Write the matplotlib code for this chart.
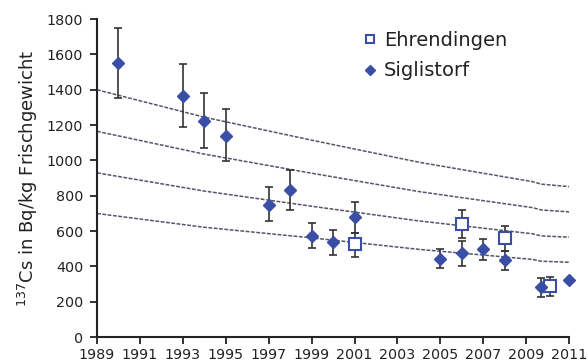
import numpy as np
import matplotlib.pyplot as plt

# Siglistorf (filled diamonds)
sig_years = [1990, 1993, 1994, 1995, 1997, 1998, 1999, 2000, 2001, 2005, 2006, 2007, 2008, 2009.7, 2011]
sig_vals = [1550, 1365, 1225, 1140, 750, 835, 575, 537, 680, 445, 477, 498, 436, 285, 322]
sig_lo = [1355, 1192, 1068, 997, 655, 722, 502, 467, 591, 393, 405, 436, 380, 230, np.nan]
sig_hi = [1752, 1545, 1384, 1290, 848, 945, 647, 604, 766, 498, 546, 557, 487, 335, np.nan]

# Ehrendingen (open squares)
ehr_years = [2001, 2006, 2008, 2010.1]
ehr_vals = [525, 643, 559, 290]
ehr_lo = [453, 563, 487, 233]
ehr_hi = [591, 722, 630, 340]

# decay reference lines
ref_years = [1989, 1994, 1999, 2004, 2009.3, 2009.7, 2011]
ref_lines = [
    [1400, 1245, 1115, 990, 880, 866, 852],
    [1165, 1036, 928, 824, 733, 720, 709],
    [930, 827, 741, 658, 585, 573, 566],
    [700, 622, 562, 497, 440, 430, 424],
]

x_ticks = list(range(1989, 2012, 2))
y_ticks = list(range(0, 1801, 200))

blue = '#3b4ea6'
err_col = '#333333'

fig = plt.figure(figsize=(5.88, 3.61), dpi=100)
ax = fig.add_axes([0.165, 0.066, 0.803, 0.881])

for line in ref_lines:
    ax.plot(ref_years, line, color='#55556a', linestyle=(0, (2.5, 1)), linewidth=1.1, zorder=1)

sig_years = np.array(sig_years)
sig_vals = np.array(sig_vals)
sig_err = np.array([sig_vals - np.array(sig_lo), np.array(sig_hi) - sig_vals])
has_err = ~np.isnan(sig_err[0])
ax.errorbar(sig_years[has_err], sig_vals[has_err], yerr=sig_err[:, has_err], fmt='none',
            ecolor=err_col, elinewidth=1.2, capsize=3, capthick=1.2, zorder=2)

ehr_vals_a = np.array(ehr_vals)
ehr_err = [ehr_vals_a - np.array(ehr_lo), np.array(ehr_hi) - ehr_vals_a]
ax.errorbar(ehr_years, ehr_vals, yerr=ehr_err, fmt='none',
            ecolor=err_col, elinewidth=1.2, capsize=3, capthick=1.2, zorder=2)

ax.plot(ehr_years, ehr_vals, linestyle='none', marker='s', markersize=8,
        markerfacecolor='white', markeredgecolor=blue, markeredgewidth=1.5,
        label='Ehrendingen', zorder=3, clip_on=False)
ax.plot(sig_years, sig_vals, linestyle='none', marker='D', markersize=6.5,
        color=blue, label='Siglistorf', zorder=4, clip_on=False)

ax.set_xlim(1989, 2011)
ax.set_ylim(0, 1800)
ax.set_xticks(x_ticks)
ax.set_yticks(y_ticks)
ax.tick_params(axis='both', direction='out', length=5, width=1.3, color='#222222',
               labelsize=10.3, labelcolor='#222222')
ax.tick_params(axis='y', pad=5)
ax.tick_params(axis='x', pad=3)
for side in ['top', 'right']:
    ax.spines[side].set_visible(False)
for side in ['left', 'bottom']:
    ax.spines[side].set_linewidth(1.5)
    ax.spines[side].set_color('#222222')

ax.set_ylabel('$^{137}$Cs in Bq/kg Frischgewicht', fontsize=13, color='#222222', labelpad=5)

ax.legend(loc='upper left', bbox_to_anchor=(0.535, 1.0), frameon=False, fontsize=14,
          handletextpad=0.25, handlelength=0.9, labelspacing=0.6, markerscale=0.8,
          borderaxespad=0.2, labelcolor='#222222')

plt.savefig('out.png', dpi=100)
